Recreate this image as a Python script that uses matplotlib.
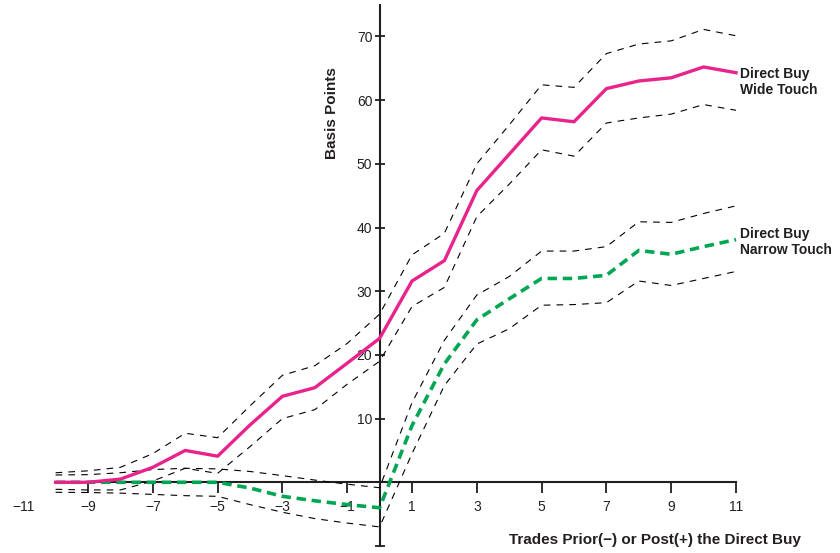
import matplotlib
matplotlib.use("Agg")
import matplotlib.pyplot as plt

plt.rcParams['font.family'] = ['Liberation Sans', 'DejaVu Sans']

trades = list(range(-10, 12))

wide = [0, 0, 0.5, 2.35, 5.0, 4.1, 9.0, 13.5, 14.85, 18.7, 22.6,
        31.6, 34.8, 45.8, 51.5, 57.2, 56.6, 61.8, 63.0, 63.5, 65.2, 64.3]
wide_upper = [1.5, 1.8, 2.35, 4.5, 7.7, 7.0, 12.0, 16.8, 18.3, 21.8, 26.4,
              35.7, 39.1, 50.0, 56.1, 62.4, 62.0, 67.3, 68.8, 69.3, 71.1, 70.1]
wide_lower = [-1.1, -1.2, -1.2, 0.2, 2.2, 1.4, 5.6, 10.0, 11.4, 15.4, 19.0,
              27.6, 30.6, 41.7, 46.8, 52.2, 51.2, 56.4, 57.2, 57.8, 59.3, 58.4]

narrow = [0, 0, 0, 0, 0, 0, -0.9, -2.2, -2.9, -3.5, -4.0,
          8.9, 18.6, 25.5, 28.8, 32.0, 32.0, 32.5, 36.4, 35.8, 37.0, 38.1]
narrow_upper = [1.15, 1.2, 1.5, 2.0, 2.2, 2.1, 1.7, 1.05, 0.35, -0.3, -0.85,
                12.5, 22.3, 29.4, 32.3, 36.3, 36.3, 37.0, 40.9, 40.8, 42.2, 43.4]
narrow_lower = [-1.57, -1.6, -1.7, -1.9, -2.1, -2.2, -3.5, -4.7, -5.7, -6.4, -7.0,
                4.5, 15.2, 21.7, 24.1, 27.8, 27.9, 28.2, 31.6, 30.9, 32.0, 33.1]

xtick_vals = [-11, -9, -7, -5, -3, -1, 1, 3, 5, 7, 9, 11]
ytick_vals = [10, 20, 30, 40, 50, 60, 70]

PINK = '#E8238C'
GREEN = '#00A651'
TXT = '#231F20'

W, H = 840, 553
fig = plt.figure(figsize=(W / 100, H / 100), dpi=100)

# pixel mapping: px = 379.6 + 32.4*x ; py = 482.3 - 6.37*y
x0, xs = 379.6, 32.4
y0, ys = 482.3, 6.37
xmin, xmax = -11.7, 14.0
ymin, ymax = -10.8, 75.5
left = (x0 + xs * xmin) / W
right = (x0 + xs * xmax) / W
top = 1 - (y0 - ys * ymax) / H
bottom = 1 - (y0 - ys * ymin) / H
ax = fig.add_axes([left, bottom, right - left, top - bottom])
ax.set_xlim(xmin, xmax)
ax.set_ylim(ymin, ymax)

dash_k = dict(color='black', lw=0.8, dashes=(6, 5.5))
ax.plot(trades, wide_upper, **dash_k)
ax.plot(trades, wide_lower, **dash_k)
ax.plot(trades, narrow_upper, **dash_k)
ax.plot(trades, narrow_lower, **dash_k)
ax.plot(trades, narrow, color=GREEN, lw=2.6, dashes=(2.6, 1.6))
ax.plot(trades, wide, color=PINK, lw=2.4)

for s in ['top', 'right']:
    ax.spines[s].set_visible(False)
ax.spines['left'].set_position(('data', 0))
ax.spines['bottom'].set_position(('data', 0))
ax.spines['left'].set_bounds(-10, 75)
ax.spines['bottom'].set_bounds(-10, 11)
for s in ['left', 'bottom']:
    ax.spines[s].set_linewidth(1.5)
    ax.spines[s].set_color(TXT)
    ax.spines[s].set_zorder(1)

ax.set_xticks(xtick_vals)
ax.set_xticklabels([str(v).replace('-', '\u2212') for v in xtick_vals])
ax.tick_params(axis='x', direction='out', length=7.7, width=1.3, pad=5,
               labelsize=10, colors=TXT)
ax.xaxis.get_major_ticks()[0].tick1line.set_visible(False)

ax.set_yticks([-10] + ytick_vals)
ax.set_yticklabels([''] + [str(v) for v in ytick_vals])
ax.tick_params(axis='y', direction='inout', length=6.5, width=1.3, pad=2,
               labelsize=10, colors=TXT)

ax.text(11.12, 62.8, 'Direct Buy\nWide Touch', fontsize=10, fontweight='bold',
        color=TXT, ha='left', va='center', linespacing=1.15)
ax.text(11.12, 37.7, 'Direct Buy\nNarrow Touch', fontsize=10, fontweight='bold',
        color=TXT, ha='left', va='center', linespacing=1.15)
ax.text(-1.48, 58.0, 'Basis Points', fontsize=11, fontweight='bold',
        color=TXT, ha='center', va='center', rotation=90)
ax.text(8.5, -9.06, 'Trades Prior(\u2212) or Post(+) the Direct Buy', fontsize=11,
        fontweight='bold', color=TXT, ha='center', va='center')

fig.savefig('out.png', dpi=100)
